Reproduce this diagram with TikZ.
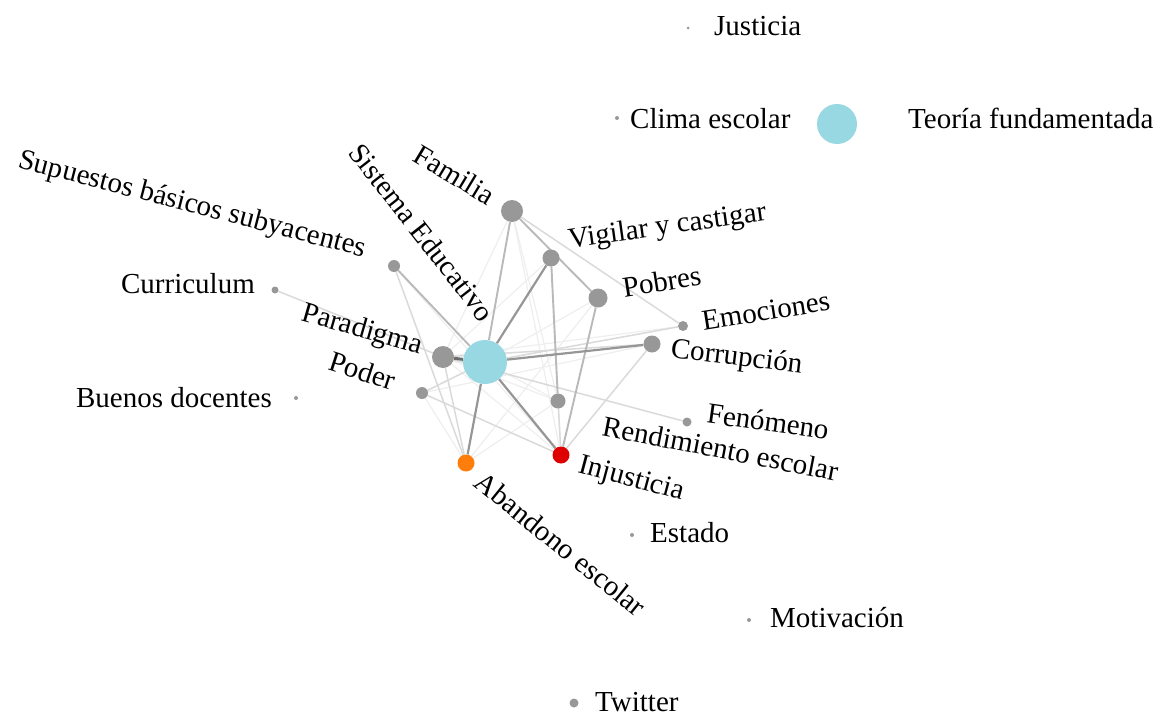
\documentclass[tikz,border=0pt]{standalone}
\usepackage{fontspec}
\setmainfont{Liberation Serif}
\usetikzlibrary{backgrounds}
\definecolor{cyanN}{RGB}{152,216,227}
\definecolor{dotgray}{RGB}{152,152,152}
\definecolor{redN}{RGB}{222,0,0}
\definecolor{orangeN}{RGB}{255,125,10}
\definecolor{edgeA}{RGB}{150,150,150}
\definecolor{edgeB}{RGB}{185,185,185}
\definecolor{edgeC}{RGB}{218,218,218}
\definecolor{edgeD}{RGB}{238,238,238}
\begin{document}
\begin{tikzpicture}[x=1pt,y=-1pt,
  dot/.style={circle,fill=dotgray,inner sep=0pt,minimum size=#1},
  lbl/.style={font=\fontsize{29}{31}\selectfont,inner sep=0pt,anchor=mid},
  eA/.style={draw=edgeA,line width=2.2pt},
  eB/.style={draw=edgeB,line width=1.9pt},
  eC/.style={draw=edgeC,line width=1.5pt},
  eD/.style={draw=edgeD,line width=1.2pt}]
\useasboundingbox (0,0) rectangle (1166,717);
% nodes
\node[dot=3pt] (just) at (688,28) {};
\node[dot=4pt] (clima) at (617,118) {};
\node[dot=40pt,fill=cyanN] (teor) at (837,124) {};
\node[dot=22pt] (fam) at (512,211) {};
\node[dot=44pt,fill=cyanN] (sis) at (485,362) {};
\node[dot=12pt] (sup) at (394,266) {};
\node[dot=7pt] (cur) at (275,290) {};
\node[dot=22pt] (par) at (443,357) {};
\node[dot=12pt] (pod) at (422,393) {};
\node[dot=4pt] (bue) at (296,398) {};
\node[dot=17pt] (vig) at (551,258) {};
\node[dot=19pt] (pob) at (598,298) {};
\node[dot=10pt] (emo) at (683,326) {};
\node[dot=17pt] (cor) at (652,344) {};
\node[dot=9pt] (fen) at (687,422) {};
\node[dot=15pt] (ren) at (558,401) {};
\node[dot=17pt,fill=redN] (inj) at (561,455) {};
\node[dot=17pt,fill=orangeN] (aba) at (466,463) {};
\node[dot=4pt] (est) at (632,535) {};
\node[dot=4pt] (mot) at (749,620) {};
\node[dot=9pt] (twi) at (574,703) {};
% labels
\node[lbl,anchor=mid west] (ljust) at (714,33) {Justicia};
\node[lbl,anchor=mid west] (lclima) at (630,126) {Clima escolar};
\node[lbl,anchor=mid west] (lteor) at (908,126) {Teoría fundamentada};
\node[lbl,rotate=-31] (lfam) at (451,181) {Familia};
\node[lbl,rotate=-52] (lsis) at (416,237) {Sistema Educativo};
\node[lbl,rotate=-14.5] (lsup) at (191,210) {Supuestos básicos subyacentes};
\node[lbl,anchor=mid east] (lcur) at (255,291) {Curriculum};
\node[lbl,rotate=-16] (lpar) at (361,335) {Paradigma};
\node[lbl,rotate=-18] (lpod) at (360,378) {Poder};
\node[lbl,anchor=mid east] (lbue) at (272,405) {Buenos docentes};
\node[lbl,rotate=8] (lvig) at (668,232) {Vigilar y castigar};
\node[lbl,rotate=9] (lpob) at (663,289) {Pobres};
\node[lbl,rotate=9] (lemo) at (767,318) {Emociones};
\node[lbl,rotate=-7] (lcor) at (736,363) {Corrupción};
\node[lbl,rotate=-8] (lfen) at (767,429) {Fenómeno};
\node[lbl,rotate=-11] (lren) at (719,456) {Rendimiento escolar};
\node[lbl,rotate=-15] (linj) at (630,484) {Injusticia};
\node[lbl,rotate=-39] (laba) at (556,550) {Abandono escolar};
\node[lbl,anchor=mid west] (lest) at (650,540) {Estado};
\node[lbl,anchor=mid west] (lmot) at (770,625) {Motivación};
\node[lbl,anchor=mid west] (ltwi) at (595,709) {Twitter};
% edges
\begin{scope}[on background layer]
\draw[eD] (sup) -- (inj);
\draw[eD] (par) -- (ren);
\draw[eD] (par) -- (emo);
\draw[eD] (pod) -- (cor);
\draw[eD] (sis) -- (ren);
\draw[eD] (sis) -- (pob);
\draw[eD] (fam) -- (ren);
\draw[eD] (fam) -- (inj);
\draw[eD] (vig) -- (inj);
\draw[eD] (pod) -- (aba);
\draw[eD] (par) -- (inj);
\draw[eD] (fam) -- (par);
\draw[eD] (vig) -- (par);
\draw[eD] (pob) -- (aba);
\draw[eD] (ren) -- (aba);
\draw[eC] (cor) -- (inj);
\draw[eC] (pod) -- (inj);
\draw[eC] (cur) -- (par);
\draw[eC] (par) -- (fen);
\draw[eC] (sis) -- (emo);
\draw[eC] (sup) -- (aba);
\draw[eC] (par) -- (aba);
\draw[eC] (pod) -- (sis);
\draw[eC] (fam) -- (emo);
\draw[eC] (ren) -- (inj);
\draw[eC] (par) -- (cor);
\draw[eB] (fam) -- (sis);
\draw[eB] (fam) -- (pob);
\draw[eB] (vig) -- (ren);
\draw[eB] (pob) -- (inj);
\draw[eB] (sup) -- (sis);
\draw[eA] (sis) -- (vig);
\draw[eA] (sis) -- (cor);
\draw[eA] (sis) -- (aba);
\draw[eA] (sis) -- (inj);
\draw[eA,line width=3pt,draw=gray!85!black] (sis) -- (par);
\end{scope}
\end{tikzpicture}
\end{document}
